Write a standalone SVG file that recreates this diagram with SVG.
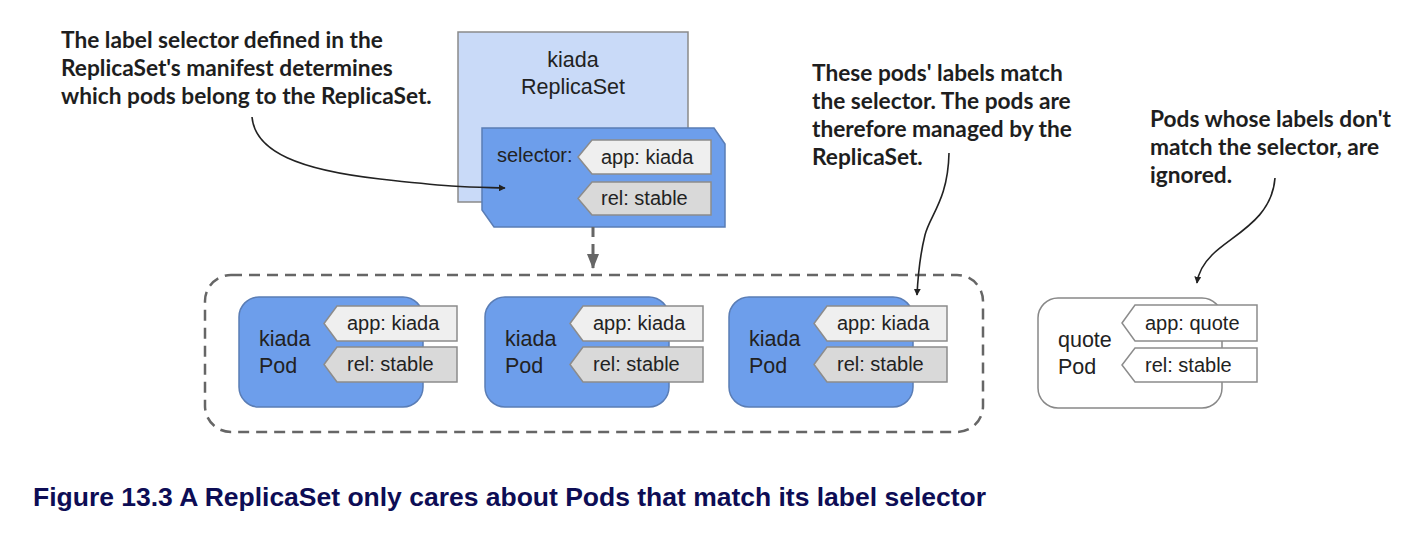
<svg xmlns="http://www.w3.org/2000/svg" width="1420" height="536" viewBox="0 0 1420 536">
<defs>
<style>
.note{font-family:Lato,"Liberation Sans",sans-serif;font-weight:bold;font-size:22.7px;fill:#1e1e1e}
.lbl{font-family:"Liberation Sans",Arial,sans-serif;font-size:21.5px;fill:#222}
.tagt{font-family:"Liberation Sans",Arial,sans-serif;font-size:20px;fill:#222}
.tagA{fill:#efefef;stroke:#8c8c8c;stroke-width:1.5}
.tagR{fill:#d9d9d9;stroke:#8c8c8c;stroke-width:1.5}
.tagW{fill:#fff;stroke:#8c8c8c;stroke-width:1.5}
.pod{fill:#6d9eeb;stroke:#5a7db5;stroke-width:1.5}
.curve{fill:none;stroke:#222;stroke-width:1.6}
.cap{font-family:"Liberation Sans",Arial,sans-serif;font-weight:bold;font-size:25px;fill:#0d0d55}
</style>
<marker id="ah" viewBox="0 0 10 10" refX="9" refY="5" markerWidth="7" markerHeight="7" markerUnits="userSpaceOnUse" orient="auto">
<path d="M0,0 L10,5 L0,10 z" fill="#222"/>
</marker>
<marker id="ahg" viewBox="0 0 15 12" refX="14" refY="6" markerWidth="15" markerHeight="12" markerUnits="userSpaceOnUse" orient="auto">
<path d="M0,0 L15,6 L0,12 z" fill="#666"/>
</marker>
</defs>
<rect width="1420" height="536" fill="#fff"/>

<g id="replicaset">
<rect x="458" y="32" width="230" height="170" fill="#c9daf8" stroke="#8a8a8a" stroke-width="1.5"/>
<text class="lbl" x="573" y="67" text-anchor="middle">kiada</text>
<text class="lbl" x="573" y="94" text-anchor="middle">ReplicaSet</text>
</g>

<g id="selector">
<path d="M482,128 L714,128 L725,144 L725,227 L494,227 L482,210 Z" fill="#6d9eeb" stroke="#5a7db5" stroke-width="1.5"/>
<text class="tagt" x="497" y="162">selector:</text>
<path class="tagA" d="M578,157 L592,140 L711,140 L711,174 L592,174 Z"/>
<text class="tagt" x="601" y="164">app: kiada</text>
<path class="tagR" d="M578,198.5 L592,182 L711,182 L711,215 L592,215 Z"/>
<text class="tagt" x="601" y="205">rel: stable</text>
</g>

<g id="pods-group">
<rect x="205" y="275" width="778" height="157" rx="26" fill="none" stroke="#666" stroke-width="2.5" stroke-dasharray="11 7"/>
</g>

<g id="pod1">
<rect class="pod" x="239" y="297" width="184" height="110" rx="20"/>
<text class="lbl" x="259" y="346">kiada</text>
<text class="lbl" x="259" y="373">Pod</text>
<path class="tagA" d="M324,323.5 L337,306 L457,306 L457,341 L337,341 Z"/>
<text class="tagt" x="347" y="330">app: kiada</text>
<path class="tagR" d="M324,364.5 L337,347 L457,347 L457,382 L337,382 Z"/>
<text class="tagt" x="347" y="371">rel: stable</text>
</g>

<g id="pod2">
<rect class="pod" x="485" y="297" width="184" height="110" rx="20"/>
<text class="lbl" x="505" y="346">kiada</text>
<text class="lbl" x="505" y="373">Pod</text>
<path class="tagA" d="M570,323.5 L583,306 L703,306 L703,341 L583,341 Z"/>
<text class="tagt" x="593" y="330">app: kiada</text>
<path class="tagR" d="M570,364.5 L583,347 L703,347 L703,382 L583,382 Z"/>
<text class="tagt" x="593" y="371">rel: stable</text>
</g>

<g id="pod3">
<rect class="pod" x="729" y="297" width="184" height="110" rx="20"/>
<text class="lbl" x="749" y="346">kiada</text>
<text class="lbl" x="749" y="373">Pod</text>
<path class="tagA" d="M814,323.5 L827,306 L947,306 L947,341 L827,341 Z"/>
<text class="tagt" x="837" y="330">app: kiada</text>
<path class="tagR" d="M814,364.5 L827,347 L947,347 L947,382 L827,382 Z"/>
<text class="tagt" x="837" y="371">rel: stable</text>
</g>

<g id="quote-pod">
<rect x="1038" y="298" width="184" height="110" rx="20" fill="#fff" stroke="#888" stroke-width="1.5"/>
<text class="lbl" x="1058" y="347">quote</text>
<text class="lbl" x="1058" y="374">Pod</text>
<path class="tagW" d="M1122,323 L1135,305 L1257,305 L1257,341 L1135,341 Z"/>
<text class="tagt" x="1145" y="330">app: quote</text>
<path class="tagW" d="M1122,365 L1135,348 L1257,348 L1257,382 L1135,382 Z"/>
<text class="tagt" x="1145" y="372">rel: stable</text>
</g>

<g id="note-selector">
<text class="note" x="61" y="48">The label selector defined in the</text>
<text class="note" x="61" y="76">ReplicaSet's manifest determines</text>
<text class="note" x="61" y="104">which pods belong to the ReplicaSet.</text>
</g>

<g id="note-match">
<text class="note" x="812" y="81">These pods' labels match</text>
<text class="note" x="812" y="109">the selector. The pods are</text>
<text class="note" x="812" y="137">therefore managed by the</text>
<text class="note" x="812" y="165">ReplicaSet.</text>
</g>

<g id="note-ignored">
<text class="note" x="1150" y="127">Pods whose labels don't</text>
<text class="note" x="1150" y="155">match the selector, are</text>
<text class="note" x="1150" y="183">ignored.</text>
</g>

<g id="connectors">
<path d="M593,227 L593,268" fill="none" stroke="#666" stroke-width="3" stroke-dasharray="10 7" marker-end="url(#ahg)"/>
<path class="curve" d="M252,117 C255,152 300,170 380,179 S470,187 505,188" marker-end="url(#ah)"/>
<path class="curve" d="M949,153 C948,200 930,215 925,235 C920,255 918,275 917,295" marker-end="url(#ah)"/>
<path class="curve" d="M1275,178 C1272,220 1232,235 1212,255 C1201,266 1198,275 1197,283" marker-end="url(#ah)"/>
</g>

<text class="cap" x="33" y="506" textLength="953" lengthAdjust="spacingAndGlyphs">Figure 13.3 A ReplicaSet only cares about Pods that match its label selector</text>
</svg>
